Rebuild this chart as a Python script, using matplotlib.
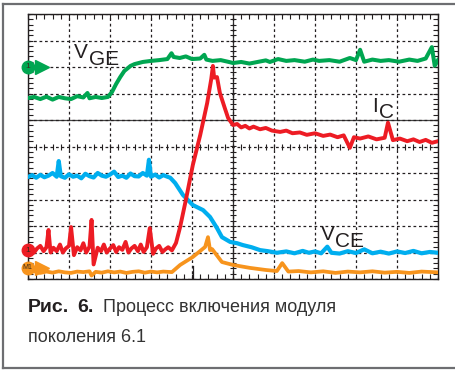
import numpy as np
import matplotlib
matplotlib.use("Agg")
import matplotlib.pyplot as plt
from matplotlib.lines import Line2D
from matplotlib.ticker import MultipleLocator

green_x = [0, 0.15, 0.3, 0.45, 0.6, 0.75, 0.9, 1.05, 1.2, 1.35,
           1.45, 1.5, 1.65, 1.8, 1.95, 2.05, 2.15, 2.25, 2.35, 2.5,
           2.6, 2.8, 3.0, 3.2, 3.4, 3.5, 3.55, 3.7, 3.85, 4.0,
           4.2, 4.3, 4.35, 4.5, 4.7, 4.9, 5.0, 5.2, 5.4, 5.6,
           5.8, 5.9, 6.1, 6.3, 6.5, 6.75, 6.95, 7.1, 7.35, 7.6,
           7.85, 8.0, 8.1, 8.2, 8.4, 8.6, 8.8, 9.05, 9.3, 9.5,
           9.7, 9.85, 9.92, 10]
green_y = [6.83, 6.87, 6.79, 6.88, 6.77, 6.87, 6.82, 6.79, 6.9, 6.85,
           7.02, 6.82, 6.87, 6.83, 6.87, 7.06, 7.36, 7.62, 7.85, 8.04,
           8.11, 8.19, 8.23, 8.26, 8.3, 8.52, 8.38, 8.34, 8.4, 8.3,
           8.32, 8.46, 8.28, 8.23, 8.26, 8.19, 8.15, 8.19, 8.13, 8.19,
           8.25, 8.19, 8.3, 8.23, 8.26, 8.2, 8.28, 8.23, 8.26, 8.2,
           8.34, 8.26, 8.65, 8.2, 8.28, 8.23, 8.26, 8.2, 8.28, 8.23,
           8.32, 8.75, 8.05, 8.26]

red_x = [0, 0.08, 0.15, 0.22, 0.3, 0.38, 0.45, 0.5, 0.55, 0.62,
         0.7, 0.78, 0.85, 0.92, 1.0, 1.05, 1.12, 1.2, 1.28, 1.35,
         1.42, 1.5, 1.55, 1.6, 1.7, 1.78, 1.85, 1.92, 2.0, 2.08,
         2.15, 2.22, 2.3, 2.38, 2.45, 2.52, 2.6, 2.68, 2.75, 2.82,
         2.9, 2.97, 3.05, 3.12, 3.2, 3.28, 3.35, 3.42, 3.51,
         3.61, 3.71, 3.85, 4.02, 4.2, 4.37, 4.47, 4.51, 4.54, 4.61,
         4.68, 4.8, 4.88, 5.0, 5.1, 5.2, 5.3, 5.4, 5.5, 5.66,
         5.8, 5.95, 6.15, 6.3, 6.45, 6.63, 6.8, 7.0, 7.2, 7.37,
         7.55, 7.7, 7.85, 7.95, 8.1, 8.3, 8.5, 8.7, 8.78, 8.9,
         9.07, 9.25, 9.4, 9.55, 9.7, 9.85, 10]
red_y = [1.1, 1.2, 1.0, 1.15, 1.25, 1.05, 1.2, 1.85, 1.0, 1.18,
         1.05, 1.3, 1.0, 1.15, 1.25, 1.96, 0.9, 1.2, 1.08, 1.35,
         1.0, 1.22, 2.23, 0.55, 1.18, 1.05, 1.3, 1.0, 1.15, 1.28,
         1.02, 1.2, 1.1, 1.4, 1.0, 1.15, 1.25, 1.05, 1.3, 1.02,
         1.2, 1.92, 0.95, 1.15, 1.25, 1.02, 1.12, 1.2, 1.08,
         1.36, 1.96, 2.98, 4.3, 5.43, 6.64, 7.55, 8.04, 7.6, 7.62,
         7.02, 6.45, 6.08, 5.81, 5.85, 5.72, 5.78, 5.68, 5.75, 5.65,
         5.7, 5.6, 5.55, 5.6, 5.5, 5.53, 5.44, 5.5, 5.4, 5.45,
         5.35, 5.42, 4.95, 5.35, 5.3, 5.38, 5.27, 5.33, 5.9, 5.24,
         5.3, 5.2, 5.27, 5.17, 5.25, 5.14, 5.2]

blue_x = [0, 0.1, 0.2, 0.3, 0.4, 0.5, 0.6, 0.7, 0.75, 0.8,
          0.9, 1.0, 1.1, 1.2, 1.3, 1.4, 1.5, 1.6, 1.7, 1.8,
          1.9, 2.0, 2.1, 2.2, 2.3, 2.4, 2.5, 2.6, 2.7, 2.8,
          2.9, 2.95, 3.0, 3.1, 3.2, 3.3, 3.4, 3.47, 3.59, 3.78,
          4.02, 4.27, 4.44, 4.61, 4.73, 4.93, 5.1, 5.24, 5.45, 5.66,
          5.85, 6.07, 6.3, 6.5, 6.7, 6.85, 7.0, 7.15, 7.3, 7.4,
          7.6, 7.8, 8.0, 8.2, 8.4, 8.6, 8.8, 9.0, 9.2, 9.4,
          9.6, 9.8, 10]
blue_y = [3.85, 3.92, 3.82, 3.93, 3.84, 3.9, 4.0, 3.86, 4.45, 3.88,
          3.82, 3.95, 3.86, 3.9, 3.8, 3.97, 3.88, 3.83, 4.0, 3.9,
          3.86, 3.94, 4.05, 3.85, 3.9, 3.82, 3.98, 3.88, 3.87, 4.0,
          3.9, 4.5, 3.86, 3.94, 3.83, 3.92, 3.86, 3.82, 3.62, 3.17,
          2.79, 2.6, 2.34, 1.92, 1.58, 1.4, 1.35, 1.28, 1.2, 1.09,
          1.05, 0.99, 1.04, 0.97, 1.06, 0.99, 1.04, 0.97, 1.22, 0.99,
          0.96, 1.05, 0.98, 1.12, 0.97, 1.03, 0.96, 1.04, 0.98, 1.06,
          0.97, 1.02, 0.99]

orange_x = [0, 0.15, 0.3, 0.45, 0.6, 0.75, 0.9, 1.05, 1.2, 1.35,
            1.5, 1.55, 1.65, 1.8, 1.95, 2.1, 2.25, 2.4, 2.55, 2.7,
            2.85, 3.0, 3.15, 3.3, 3.51, 3.71, 4.02, 4.32, 4.39, 4.44,
            4.49, 4.73, 5.0, 5.41, 5.8, 6.07, 6.2, 6.35, 6.6, 6.9,
            7.2, 7.5, 7.8, 8.1, 8.4, 8.7, 9.0, 9.3, 9.6, 10]
orange_y = [0.26, 0.29, 0.23, 0.28, 0.24, 0.29, 0.25, 0.23, 0.28, 0.26,
            0.29, 0.13, 0.27, 0.24, 0.29, 0.25, 0.28, 0.23, 0.27, 0.29,
            0.24, 0.28, 0.25, 0.28, 0.26, 0.53, 0.83, 1.21, 1.58, 1.09,
            1.13, 0.64, 0.53, 0.42, 0.34, 0.3, 0.6, 0.28, 0.3, 0.25,
            0.29, 0.23, 0.28, 0.25, 0.29, 0.24, 0.27, 0.23, 0.28, 0.25]

# channel reference markers on the left edge (level in divisions)
marker_levels = {"green": 8.0, "red": 1.09, "orange": 0.42}

GREEN = "#00a651"
RED = "#ed1c24"
BLUE = "#00aeef"
ORANGE = "#f7941d"
INK = "#231f20"

plt.rcParams["font.family"] = ["Liberation Sans", "DejaVu Sans"]

fig = plt.figure(figsize=(4.56, 3.70), dpi=100)
ax = fig.add_axes([28 / 456, 91 / 370, 410 / 456, 265 / 370])
ax.set_xlim(0, 10)
ax.set_ylim(0, 10)

# graticule: dashed divisions, minor ticks inside the frame
ax.xaxis.set_major_locator(MultipleLocator(1))
ax.yaxis.set_major_locator(MultipleLocator(1))
ax.xaxis.set_minor_locator(MultipleLocator(0.2))
ax.yaxis.set_minor_locator(MultipleLocator(0.2))
ax.tick_params(which="both", direction="in", length=3.5, width=0.8,
               top=True, right=True, labelbottom=False, labelleft=False,
               color=INK)
ax.grid(True, which="major", color=INK, linewidth=0.9, linestyle=(0, (2.2, 2.2)))
for spine in ax.spines.values():
    spine.set_linewidth(1.0)
    spine.set_color(INK)

ax.axvline(5, color="#333333", linewidth=0.9, zorder=1.5)
ax.axhline(6, color="#444444", linewidth=0.9, zorder=1.5)
small = np.arange(0.2, 10, 0.2)
ax.plot(small, np.full_like(small, 5.0), ls="none", marker="|", ms=4, mew=0.8, color=INK, zorder=1.5)
ax.plot(np.full_like(small, 5.0), small, ls="none", marker="_", ms=4, mew=0.8, color=INK, zorder=1.5)
ax.plot([4.02, 4.02], [0, 0.5], color=INK, linewidth=0.9, zorder=1.5)

# traces (thick lines stand in for the noise band of the scope)
ax.plot(blue_x, blue_y, color=BLUE, linewidth=3.0, zorder=3, solid_joinstyle="round")
ax.plot(orange_x, orange_y, color=ORANGE, linewidth=2.7, zorder=3, solid_joinstyle="round")
ax.plot(green_x, green_y, color=GREEN, linewidth=2.9, zorder=3, solid_joinstyle="round")
ax.plot(red_x, red_y, color=RED, linewidth=2.8, zorder=4, solid_joinstyle="round")

# channel markers
for name, color, txt in [("green", GREEN, "1"), ("red", RED, "1"), ("orange", ORANGE, "M1")]:
    lvl = marker_levels[name]
    if name != "red":
        ax.plot([0, 0.3], [lvl, lvl], color=color, linewidth=1.5, clip_on=False, zorder=5)
        ax.plot([0.34], [lvl], marker=">", ms=10, color=color, clip_on=False, zorder=5)
    ax.plot([-0.01], [lvl], marker="o", ms=9, color=color, clip_on=False, zorder=6)
    ax.text(-0.01, lvl, txt, fontsize=5 if len(txt) > 1 else 6, color="#3a2a1a",
            ha="center", va="center", zorder=7, clip_on=False)

# trace labels
lab = dict(fontsize=15, color=INK, va="baseline", ha="left", zorder=8)
ax.text(1.12, 8.34, "V", **lab)
ax.text(1.49, 8.08, "GE", **lab)
ax.text(8.4, 6.3, "I", **lab)
ax.text(8.56, 6.08, "C", **lab)
ax.text(7.15, 1.47, "V", **lab)
ax.text(7.49, 1.21, "CE", **lab)

# caption
fig.text(28 / 456, 1 - 312 / 370, "Рис.", fontsize=14, fontweight="bold",
         color=INK, va="baseline")
fig.text(77 / 456, 1 - 312 / 370, "6.", fontsize=14, fontweight="bold",
         color=INK, va="baseline")
fig.text(103 / 456, 1 - 312 / 370, "Процесс включения модуля", fontsize=13,
         color="#333333", va="baseline")
fig.text(28 / 456, 1 - 342 / 370, "поколения 6.1", fontsize=13,
         color="#333333", va="baseline")

# outer box of the figure
frame = "#6d6e71"
fig.add_artist(Line2D([3 / 456, 3 / 456], [1 - 4 / 370, 1 - 368 / 370], color=frame, linewidth=1.6))
fig.add_artist(Line2D([3 / 456, 1], [1 - 4 / 370, 1 - 4 / 370], color=frame, linewidth=1.6))
fig.add_artist(Line2D([3 / 456, 1], [1 - 368 / 370, 1 - 368 / 370], color=frame, linewidth=1.6))

fig.savefig("out.png", dpi=100)
